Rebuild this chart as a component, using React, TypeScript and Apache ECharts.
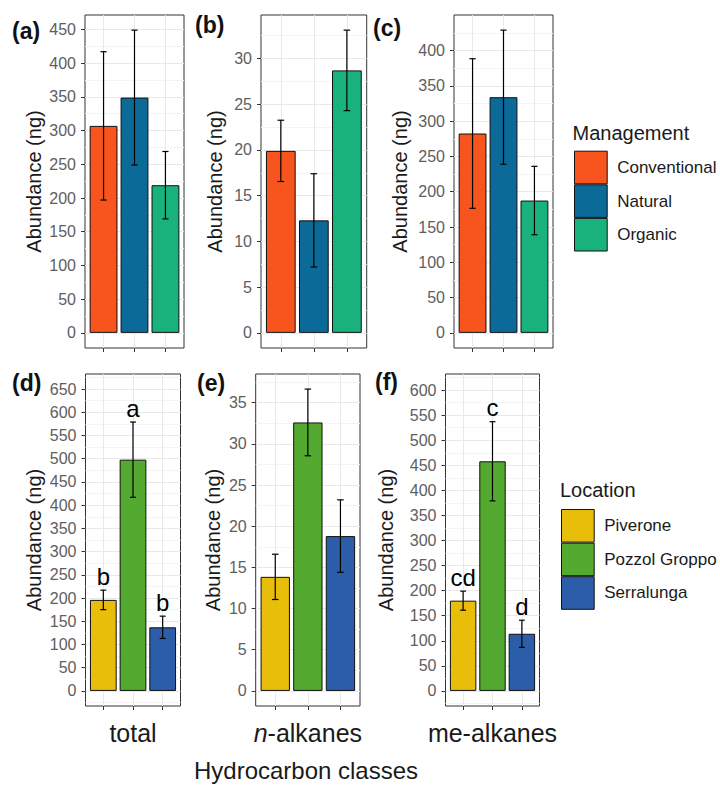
import { useEffect, useRef } from 'react';
import * as echarts from 'echarts';

const FONT = '"Liberation Sans", Arial, Helvetica, sans-serif';

// ---- categories / legends ----
const management = ['Conventional', 'Natural', 'Organic'];
const managementColors = ['#F8541E', '#0B6A98', '#19B27D'];
const locations = ['Piverone', 'Pozzol Groppo', 'Serralunga'];
const locationColors = ['#E8BE0A', '#54AA30', '#2C5DA8'];
const classLabels = ['total', '{it|n}-alkanes', 'me-alkanes'];

// ---- data: means and error (half-width) ----
const mgmtTotalMean = [307, 349, 219];
const mgmtTotalErr = [110, 100, 50];
const mgmtNMean = [19.9, 12.3, 28.7];
const mgmtNErr = [3.35, 5.1, 4.4];
const mgmtMeMean = [282.5, 334, 187.5];
const mgmtMeErr = [106, 95, 48.5];

const locTotalMean = [196, 498, 137];
const locTotalErr = [21, 81, 24];
const locNMean = [13.85, 32.6, 18.8];
const locNErr = [2.75, 4.05, 4.4];
const locMeMean = [180, 458, 114];
const locMeErr = [19, 79, 27];

const locTotalLetters = ['b', 'a', 'b'];
const locMeLetters = ['cd', 'c', 'd'];

// ---- y tick labels ----
const ticksA = [0, 50, 100, 150, 200, 250, 300, 350, 400, 450];
const ticksB = [0, 5, 10, 15, 20, 25, 30];
const ticksC = [0, 50, 100, 150, 200, 250, 300, 350, 400];
const ticksD = [0, 50, 100, 150, 200, 250, 300, 350, 400, 450, 500, 550, 600, 650];
const ticksE = [0, 5, 10, 15, 20, 25, 30, 35];
const ticksF = [0, 50, 100, 150, 200, 250, 300, 350, 400, 450, 500, 550, 600];

// upper data limit of each panel (before the 5% expansion)
const dataTops = [449, 33.1, 429, 650, 36.65, 602];

const panelDefs = [
  { mean: mgmtTotalMean, err: mgmtTotalErr, names: management, colors: managementColors, ticks: ticksA, letters: null as string[] | null, tag: '(a)' },
  { mean: mgmtNMean, err: mgmtNErr, names: management, colors: managementColors, ticks: ticksB, letters: null, tag: '(b)' },
  { mean: mgmtMeMean, err: mgmtMeErr, names: management, colors: managementColors, ticks: ticksC, letters: null, tag: '(c)' },
  { mean: locTotalMean, err: locTotalErr, names: locations, colors: locationColors, ticks: ticksD, letters: locTotalLetters, tag: '(d)' },
  { mean: locNMean, err: locNErr, names: locations, colors: locationColors, ticks: ticksE, letters: null, tag: '(e)' },
  { mean: locMeMean, err: locMeErr, names: locations, colors: locationColors, ticks: ticksF, letters: locMeLetters, tag: '(f)' },
];

// layout (pixels)
const layouts = [
  { left: 85, top: 15, width: 99, height: 333, nameGap: 41, tx: 12, ty: 31 },
  { left: 261, top: 15, width: 105.7, height: 333, nameGap: 36, tx: 195, ty: 25 },
  { left: 454, top: 15, width: 99, height: 333, nameGap: 44, tx: 373, ty: 28 },
  { left: 85.5, top: 374, width: 95, height: 332, nameGap: 42, tx: 12, ty: 383 },
  { left: 255.7, top: 374, width: 104.3, height: 332, nameGap: 33, tx: 197, ty: 383 },
  { left: 445.5, top: 374, width: 94, height: 332, nameGap: 50, tx: 375, ty: 382 },
];

function buildOption() {
  const grid: any[] = [];
  const xAxis: any[] = [];
  const yAxis: any[] = [];
  const series: any[] = [];
  const graphic: any[] = [];

  panelDefs.forEach((p, i) => {
    const L = layouts[i];
    const top = dataTops[i];
    const ymin = -0.05 * top;
    const ymax = 1.05 * top;
    const step = p.ticks[1] - p.ticks[0];
    const minor: number[] = [];
    p.ticks.forEach((t) => {
      const m = t + step / 2;
      if (m < ymax) minor.push(m);
    });
    if (ymin < -step / 2) minor.push(-step / 2);

    grid.push({
      left: L.left, top: L.top, width: L.width, height: L.height,
      show: true, borderColor: '#333', borderWidth: 1, backgroundColor: '#fff',
    });

    xAxis.push({
      gridIndex: i, type: 'value', min: 0.4, max: 3.6,
      axisLine: { show: false, onZero: false },
      axisTick: { show: true, customValues: [1, 2, 3], length: 4, lineStyle: { color: '#333' } },
      axisLabel: { show: false, customValues: [1, 2, 3] },
      splitLine: { show: true, lineStyle: { color: '#e9e9e9', width: 1 } },
      name: i >= 3 ? classLabels[i - 3] : '',
      nameLocation: 'middle',
      nameGap: 14,
      nameTextStyle: {
        fontSize: 25, color: '#1a1a1a', fontFamily: FONT, verticalAlign: 'top',
        rich: { it: { fontStyle: 'italic', fontSize: 25, color: '#1a1a1a', fontFamily: FONT } },
      },
    });

    yAxis.push({
      gridIndex: i, type: 'value', min: ymin, max: ymax,
      axisLine: { show: false, onZero: false },
      axisTick: { show: true, customValues: p.ticks, length: 4, lineStyle: { color: '#333' } },
      axisLabel: { show: true, customValues: p.ticks, color: '#5e5e5e', fontSize: 16, fontFamily: FONT, margin: 9 },
      splitLine: { show: true, lineStyle: { color: '#e9e9e9', width: 1 } },
      name: 'Abundance (ng)',
      nameLocation: 'middle',
      nameGap: L.nameGap,
      nameTextStyle: { fontSize: 20, color: '#1a1a1a', fontFamily: FONT },
    });
    yAxis.push({
      gridIndex: i, type: 'value', min: ymin, max: ymax, position: 'left',
      axisLine: { show: false, onZero: false },
      axisTick: { show: false, customValues: minor },
      axisLabel: { show: false, customValues: minor },
      splitLine: { show: true, lineStyle: { color: '#f4f4f4', width: 1 } },
    });

    const bw = (0.9 * L.width) / 3.2;
    p.names.forEach((name, k) => {
      series.push({
        type: 'bar', name, xAxisIndex: i, yAxisIndex: 2 * i,
        data: [[k + 1, p.mean[k]]],
        barWidth: bw, barGap: '-100%', z: 2,
        itemStyle: { color: p.colors[k], borderColor: '#111', borderWidth: 1 },
        silent: true,
      });
    });

    const letters = p.letters;
    series.push({
      type: 'custom', xAxisIndex: i, yAxisIndex: 2 * i, z: 4, silent: true,
      data: p.mean.map((m, k) => [k + 1, m - p.err[k], m + p.err[k]]),
      encode: { x: 0, y: [1, 2] },
      renderItem: (params: any, api: any) => {
        const x = api.value(0);
        const lo = api.value(1);
        const hi = api.value(2);
        const pLo = api.coord([x, lo]);
        const pHi = api.coord([x, hi]);
        const hw = api.size([0.2, 0])[0] / 2;
        const st = { stroke: '#000', lineWidth: 1.2 };
        const children: any[] = [
          { type: 'line', shape: { x1: pLo[0], y1: pLo[1], x2: pHi[0], y2: pHi[1] }, style: st },
          { type: 'line', shape: { x1: pLo[0] - hw, y1: pLo[1], x2: pLo[0] + hw, y2: pLo[1] }, style: st },
          { type: 'line', shape: { x1: pHi[0] - hw, y1: pHi[1], x2: pHi[0] + hw, y2: pHi[1] }, style: st },
        ];
        if (letters) {
          children.push({
            type: 'text', x: pHi[0], y: pHi[1] - 14,
            style: {
              text: letters[params.dataIndex], fill: '#000', font: `24px ${FONT}`,
              align: 'center', verticalAlign: 'middle', textAlign: 'center', textVerticalAlign: 'middle',
            },
          });
        }
        return { type: 'group', children };
      },
    });

    graphic.push({
      type: 'text', x: L.tx, y: L.ty,
      style: {
        text: p.tag, fill: '#111', font: `bold 23px ${FONT}`,
        align: 'left', verticalAlign: 'middle', textAlign: 'left', textVerticalAlign: 'middle',
      },
    });
  });

  graphic.push({
    type: 'text', x: 306, y: 770,
    style: { text: 'Hydrocarbon classes', fill: '#1a1a1a', font: `24px ${FONT}`, align: 'center', verticalAlign: 'middle', textAlign: 'center', textVerticalAlign: 'middle' },
  });
  graphic.push({
    type: 'text', x: 572.5, y: 133,
    style: { text: 'Management', fill: '#1a1a1a', font: `20px ${FONT}`, align: 'left', verticalAlign: 'middle', textAlign: 'left', textVerticalAlign: 'middle' },
  });
  graphic.push({
    type: 'text', x: 560, y: 490,
    style: { text: 'Location', fill: '#1a1a1a', font: `20px ${FONT}`, align: 'left', verticalAlign: 'middle', textAlign: 'left', textVerticalAlign: 'middle' },
  });

  const legendCommon = {
    orient: 'vertical', itemWidth: 32.7, itemHeight: 32.6, itemGap: 0, padding: 0,
    icon: 'rect', selectedMode: false,
    itemStyle: { borderColor: '#111', borderWidth: 1 },
    textStyle: { fontSize: 17, color: '#1a1a1a', fontFamily: FONT, padding: [0, 0, 0, 5] },
  };

  return {
    animation: false,
    backgroundColor: '#fff',
    textStyle: { fontFamily: FONT },
    grid, xAxis, yAxis, series, graphic,
    legend: [
      { ...legendCommon, data: management, left: 574, top: 150.7 },
      { ...legendCommon, data: locations, left: 561, top: 509 },
    ],
  };
}

export default function App() {
  const ref = useRef<HTMLDivElement>(null);
  useEffect(() => {
    if (!ref.current) return;
    const chart = echarts.init(ref.current, undefined, { renderer: 'svg' });
    chart.setOption(buildOption() as any);
    return () => chart.dispose();
  }, []);
  return (
    <div
      ref={ref}
      style={{ position: 'absolute', left: 0, top: 0, width: 720, height: 785, background: '#fff' }}
    />
  );
}
